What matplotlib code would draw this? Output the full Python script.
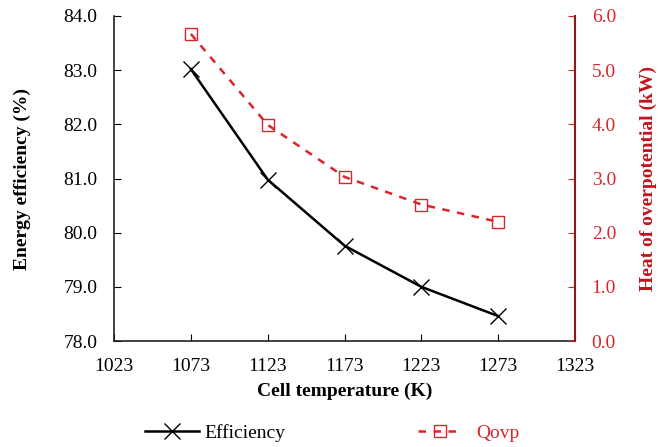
import matplotlib
matplotlib.use("Agg")
import matplotlib.pyplot as plt
from matplotlib.lines import Line2D

plt.rcParams.update({
    "font.family": "Liberation Serif", "font.size": 14,
    "xtick.direction": "in", "ytick.direction": "in",
})

temps = [1073, 1123, 1173, 1223, 1273]
efficiency = [83.02, 80.98, 79.76, 79.00, 78.46]
qovp = [5.67, 3.99, 3.03, 2.52, 2.20]

RED = "#D9262C"
DARK_RED = "#C0141C"

fig = plt.figure(figsize=(6.59, 4.47), dpi=100)
ax = fig.add_axes([114 / 659, 1 - 341 / 447, (575 - 114) / 659, (341 - 16) / 447])
ax2 = ax.twinx()

ax.plot(temps, efficiency, color="black", lw=1.8, marker="x", markersize=11,
        markeredgewidth=1.0, label="Efficiency")
ax2.plot(temps, qovp, color=RED, lw=1.8, ls=(0, (3, 3)), marker="s",
         markersize=9, markerfacecolor="none", markeredgecolor=RED,
         markeredgewidth=1.0, label="Qovp")

ax.set_xlim(1023, 1323)
ax.set_xticks(range(1023, 1324, 50))
ax.set_ylim(78, 84)
ax.set_yticks(range(78, 85))
ax.set_yticklabels([f"{v:.1f}" for v in range(78, 85)])
ax2.set_ylim(0, 6)
ax2.set_yticks(range(0, 7))
ax2.set_yticklabels([f"{v:.1f}" for v in range(0, 7)])

ax.set_xlabel("Cell temperature (K)", fontweight="bold", fontsize=14, labelpad=6)
ax.set_ylabel("Energy efficiency (%)", fontweight="bold", fontsize=14, labelpad=23)
ax2.set_ylabel("Heat of overpotential (kW)", fontweight="bold", fontsize=14,
               color=DARK_RED, labelpad=17)

ax.tick_params(axis="both", labelsize=14, length=5, pad=12)
ax2.tick_params(axis="y", colors=RED, labelsize=14, length=5, pad=12)
ax2.spines["right"].set_color("#8B1A1A")
ax2.spines["right"].set_linewidth(1.5)
for a in (ax, ax2):
    a.spines["top"].set_visible(False)
ax2.spines["left"].set_visible(False)
ax2.spines["bottom"].set_visible(False)
ax.spines["right"].set_visible(False)
for side in ("left", "bottom"):
    ax.spines[side].set_linewidth(1.2)
    ax.spines[side].set_color("#222222")

h1 = Line2D([0], [0], color="black", lw=1.8, marker="x", markersize=11,
            markeredgewidth=1.0)
h2 = Line2D([0], [0], color=RED, lw=1.8, ls=(0, (3, 3)), marker="s",
            markersize=9, markerfacecolor="none", markeredgecolor=RED,
            markeredgewidth=1.0)
leg1 = fig.legend([h1], ["Efficiency"], loc="center left",
                  bbox_to_anchor=(145 / 659, 1 - 433 / 447), frameon=False,
                  fontsize=14, handlelength=2.8, handletextpad=0.25,
                  borderpad=0, borderaxespad=0)
leg2 = fig.legend([h2], ["Qovp"], loc="center left",
                  bbox_to_anchor=(418 / 659, 1 - 433 / 447), frameon=False,
                  fontsize=14, handlelength=2.3, handletextpad=0.7,
                  borderpad=0, borderaxespad=0)
for t in leg2.get_texts():
    t.set_color(RED)

fig.savefig("out.png", dpi=100)
